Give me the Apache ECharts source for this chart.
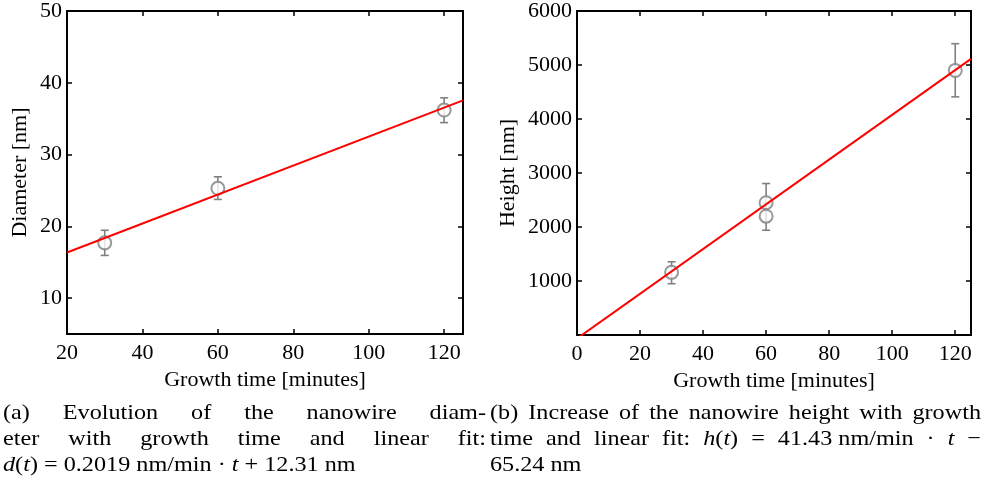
<!DOCTYPE html>
<html><head><meta charset="utf-8">
<script src="https://cdn.jsdelivr.net/npm/echarts@6/dist/echarts.min.js"></script>
<style>html,body{margin:0;padding:0;background:#fff}#c{width:983px;height:482px}</style>
</head><body><div id="c"></div>
<script>
// ---- Panel (a): nanowire diameter ----
const timeA = [30, 60, 120];
const diamA = [17.7, 25.3, 36.2];
const diamLowA = [15.95, 23.75, 34.45];
const diamHighA = [19.45, 26.9, 37.9];
const fitTimeA = [20, 125];
const fitDiamA = [16.35, 37.55];
const xTicksA = [20, 40, 60, 80, 100, 120];
const yTicksA = [10, 20, 30, 40, 50];

// ---- Panel (b): nanowire height ----
const timeB = [30, 60, 60, 120];
const heightB = [1160, 2450, 2200, 4900];
const heightLowB = [950, 2100, 1940, 4410];
const heightHighB = [1355, 2805, 2450, 5395];
const fitTimeB = [0, 125];
const fitHeightB = [-65.24, 5113.5];
const xTicksB = [0, 20, 40, 60, 80, 100, 120];
const yTicksB = [1000, 2000, 3000, 4000, 5000, 6000];

// ---- Captions ('*' toggles italics) ----
const captionA = [
  "(a) Evolution of the nanowire diam-",
  "eter with growth time and linear fit:",
  "*d*(*t*) = 0.2019\u00a0nm/min · *t* + 12.31\u00a0nm"
];
const captionB = [
  "(b) Increase of the nanowire height with growth",
  "time and linear fit: *h*(*t*) = 41.43\u00a0nm/min · *t* −",
  "65.24\u00a0nm"
];

const FONT = 'Liberation Serif';
const GRAY = '#808080';
const labelFmt = v => String(v);

function xAxis(gridIndex, min, max, ticks, pos, name) {
  const top = pos === 'top';
  return {
    type: 'value', gridIndex, min, max, position: pos,
    name: top ? '' : name, nameLocation: 'middle', nameGap: 32,
    nameTextStyle: { fontFamily: FONT, fontSize: 22, color: '#000' },
    axisLine: { show: true, onZero: false, lineStyle: { color: '#000', width: 2 } },
    axisTick: { show: true, inside: true, length: 5, customValues: ticks, lineStyle: { color: '#000', width: 1.5 } },
    axisLabel: { show: !top, customValues: ticks, formatter: labelFmt, margin: 8,
                 fontFamily: FONT, fontSize: 22, color: '#000',
                 textStyle: { fontFamily: FONT, fontSize: 22, color: '#000' } },
    splitLine: { show: false }
  };
}
function yAxis(gridIndex, min, max, ticks, pos, name, gap) {
  const right = pos === 'right';
  return {
    type: 'value', gridIndex, min, max, position: pos,
    name: right ? '' : name, nameLocation: 'middle', nameGap: gap,
    nameTextStyle: { fontFamily: FONT, fontSize: 22, color: '#000' },
    axisLine: { show: true, onZero: false, lineStyle: { color: '#000', width: 2 } },
    axisTick: { show: true, inside: true, length: 5, customValues: ticks, lineStyle: { color: '#000', width: 1.5 } },
    axisLabel: { show: !right, customValues: ticks, formatter: labelFmt, margin: 5,
                 fontFamily: FONT, fontSize: 22, color: '#000',
                 textStyle: { fontFamily: FONT, fontSize: 22, color: '#000' } },
    splitLine: { show: false }
  };
}

function errorSeries(xi, yi, xs, lo, hi) {
  return {
    type: 'custom', xAxisIndex: xi, yAxisIndex: yi, z: 2,
    data: xs.map((t, i) => [t, lo[i], hi[i]]),
    encode: { x: 0, y: [1, 2] },
    renderItem: function (params, api) {
      const x = api.value(0);
      const p1 = api.coord([x, api.value(1)]);
      const p2 = api.coord([x, api.value(2)]);
      const w = 4;
      const st = { stroke: GRAY, lineWidth: 1.6 };
      return {
        type: 'group', children: [
          { type: 'line', shape: { x1: p1[0], y1: p1[1], x2: p2[0], y2: p2[1] }, style: st },
          { type: 'line', shape: { x1: p1[0] - w, y1: p1[1], x2: p1[0] + w, y2: p1[1] }, style: st },
          { type: 'line', shape: { x1: p2[0] - w, y1: p2[1], x2: p2[0] + w, y2: p2[1] }, style: st }
        ]
      };
    }
  };
}
function pointSeries(xi, yi, xs, ys) {
  return {
    type: 'scatter', xAxisIndex: xi, yAxisIndex: yi, z: 3,
    symbol: 'emptyCircle', symbolSize: 13,
    itemStyle: { color: GRAY, borderColor: GRAY, borderWidth: 1.6 },
    data: xs.map((t, i) => [t, ys[i]])
  };
}
function fitSeries(xi, yi, xs, ys) {
  return {
    type: 'line', xAxisIndex: xi, yAxisIndex: yi, z: 4, clip: true,
    showSymbol: false, symbol: 'none',
    lineStyle: { color: '#ff0000', width: 2 },
    data: xs.map((t, i) => [t, ys[i]])
  };
}

// ---- caption layout ----
const mctx = document.createElement('canvas').getContext('2d');
const CAP_SIZE = 22;
const CAP_SX = 1.1;
function segs(str) {
  const parts = str.split('*');
  return parts.map((t, i) => ({ text: t, italic: i % 2 === 1 })).filter(s => s.text.length);
}
function segW(s) {
  mctx.font = (s.italic ? 'italic ' : '') + CAP_SIZE + 'px "' + FONT + '"';
  return mctx.measureText(s.text).width * CAP_SX;
}
function captionElems(lines, x0, x1, y0, lh) {
  const els = [];
  lines.forEach((line, li) => {
    const y = y0 + li * lh;
    const justify = li < lines.length - 1;
    const words = line.split(' ').map(segs);
    const widths = words.map(ws => ws.reduce((a, s) => a + segW(s), 0));
    const total = widths.reduce((a, b) => a + b, 0);
    const spaceW = segW({ text: ' ', italic: false });
    const gap = justify && words.length > 1 ? (x1 - x0 - total) / (words.length - 1) : spaceW;
    let x = x0;
    words.forEach((ws, wi) => {
      let xx = x;
      ws.forEach(s => {
        els.push({
          type: 'text', x: xx, y: y, scaleX: CAP_SX, silent: true,
          style: { text: s.text, fontFamily: FONT, fontSize: CAP_SIZE, fontStyle: s.italic ? 'italic' : 'normal',
                   fill: '#000', verticalAlign: 'middle', align: 'left' }
        });
        xx += segW(s);
      });
      x += widths[wi] + gap;
    });
  });
  return els;
}

const chart = echarts.init(document.getElementById('c'), null, { renderer: 'canvas' });
chart.setOption({
  animation: false,
  backgroundColor: '#fff',
  textStyle: { fontFamily: FONT, fontSize: 22, color: '#000' },
  grid: [
    { left: 67, top: 7, width: 396, height: 327 },
    { left: 577, top: 10, width: 394, height: 325 }
  ],
  xAxis: [
    xAxis(0, 20, 125, xTicksA, 'bottom', 'Growth time [minutes]'),
    xAxis(0, 20, 125, xTicksA, 'top', ''),
    xAxis(1, 0, 125, xTicksB, 'bottom', 'Growth time [minutes]'),
    xAxis(1, 0, 125, xTicksB, 'top', '')
  ],
  yAxis: [
    yAxis(0, 5, 50, yTicksA, 'left', 'Diameter [nm]', 36),
    yAxis(0, 5, 50, yTicksA, 'right', '', 0),
    yAxis(1, 0, 6000, yTicksB, 'left', 'Height [nm]', 58),
    yAxis(1, 0, 6000, yTicksB, 'right', '', 0)
  ],
  series: [
    errorSeries(0, 0, timeA, diamLowA, diamHighA),
    pointSeries(0, 0, timeA, diamA),
    fitSeries(0, 0, fitTimeA, fitDiamA),
    errorSeries(2, 2, timeB, heightLowB, heightHighB),
    pointSeries(2, 2, timeB, heightB),
    fitSeries(2, 2, fitTimeB, fitHeightB)
  ],
  graphic: [
    { type: 'group', children: captionElems(captionA, 3, 486, 413, 26) },
    { type: 'group', children: captionElems(captionB, 490, 981, 413, 26) }
  ]
});
</script>
</body></html>
